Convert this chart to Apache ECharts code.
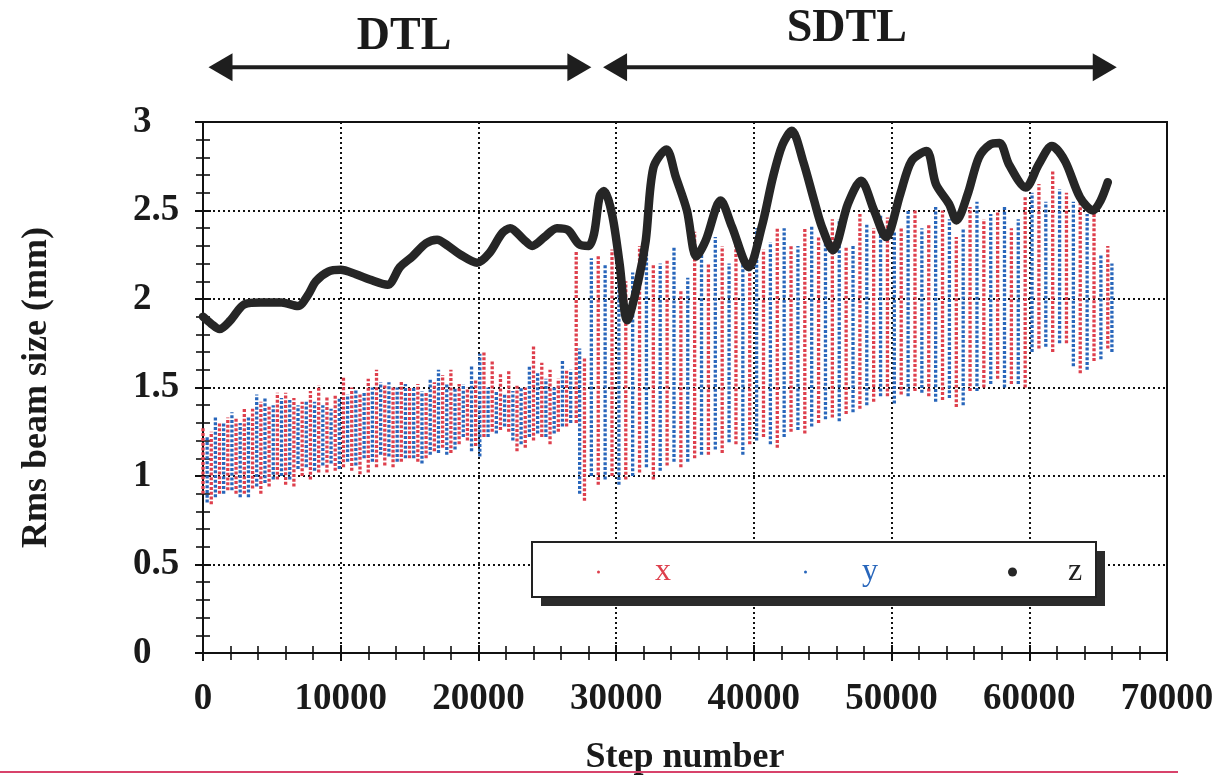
<!DOCTYPE html>
<html>
<head>
<meta charset="utf-8">
<script src="https://cdn.jsdelivr.net/npm/echarts@6/dist/echarts.min.js"></script>
<style>
html,body{margin:0;padding:0;background:#fff;}
#chart{width:1212px;height:775px;}
</style>
</head>
<body>
<div id="chart"></div>
<script>
// ---------- data ----------
const seriesNames = ['x', 'y', 'z'];

// z: rms beam size along the longitudinal axis
const zSteps = [0,600,1200,2000,3000,4200,5700,6900,7600,8200,9100,10000,11100,12100,13400,14300,15200,16200,17000,17800,18700,19900,20800,21700,22300,23300,23900,24800,25700,26500,27300,28000,28400,28800,29100,29700,30250,30800,31600,32150,32700,33650,34330,35140,35820,36500,37590,38400,39630,40580,41390,42070,42750,43570,44380,44930,45740,46830,47780,48730,49600,50630,51450,52540,53220,54170,54710,55530,56340,57160,57840,58520,59740,60690,61640,62590,63680,64630,65180,65700];
const zValues = [1.90,1.86,1.83,1.88,1.97,1.98,1.98,1.96,2.02,2.10,2.155,2.165,2.14,2.11,2.08,2.18,2.24,2.315,2.335,2.30,2.25,2.205,2.26,2.37,2.40,2.335,2.30,2.35,2.40,2.39,2.31,2.30,2.37,2.58,2.61,2.48,2.20,1.88,2.10,2.33,2.74,2.845,2.69,2.50,2.24,2.33,2.556,2.41,2.18,2.41,2.69,2.87,2.95,2.78,2.556,2.41,2.276,2.537,2.668,2.50,2.35,2.593,2.78,2.836,2.649,2.537,2.444,2.593,2.80,2.873,2.882,2.761,2.63,2.761,2.864,2.78,2.575,2.50,2.556,2.66];

// x and y: each sampled column of the oscillation as [step, lowest, highest]
const xColumns = [
 [0,0.90,1.28],[600,0.84,1.25],[1200,0.90,1.30],[1800,0.92,1.33],[2400,0.90,1.33],[3000,0.90,1.38],[3600,0.93,1.38],[4200,0.90,1.42],[4800,0.94,1.40],[5400,0.98,1.47],[6000,0.95,1.47],[6600,0.94,1.44],[7200,1.00,1.42],[7800,0.98,1.48],[8400,1.02,1.51],[9000,1.02,1.45],[9600,1.03,1.46],[10200,1.05,1.56],[10800,1.03,1.50],[11400,1.01,1.47],[12000,1.02,1.55],[12600,1.05,1.60],[13200,1.06,1.52],[13800,1.05,1.50],[14400,1.08,1.54],[15000,1.10,1.50],[15600,1.08,1.52],[16200,1.10,1.48],[16800,1.14,1.53],[17400,1.16,1.57],[18000,1.13,1.60],[18600,1.18,1.52],[19200,1.20,1.50],[19800,1.17,1.55],[20400,1.22,1.70],[21000,1.25,1.65],[21600,1.26,1.58],[22200,1.25,1.60],[22800,1.14,1.52],[23400,1.16,1.50],[24000,1.20,1.74],[24600,1.22,1.64],[25200,1.18,1.60],[25800,1.25,1.55],[26400,1.28,1.60],
 [27100,1.30,2.27],[27700,0.86,1.67],[28700,0.95,2.25],[29700,1.00,2.28],[30700,0.98,2.10],[31700,1.02,2.30],[32700,0.98,2.20],[33700,1.06,2.22],[34700,1.05,2.05],[35700,1.10,2.38],[36700,1.12,2.20],[37700,1.13,2.30],[38700,1.18,2.33],[39700,1.18,2.15],[40700,1.22,2.28],[41700,1.16,2.40],[42700,1.25,2.30],[43700,1.24,2.40],[44700,1.30,2.35],[45700,1.33,2.45],[46700,1.35,2.30],[47700,1.38,2.48],[48700,1.42,2.40],[49700,1.45,2.46],[50700,1.46,2.40],[51700,1.48,2.50],[52700,1.45,2.42],[53700,1.43,2.50],[54700,1.39,2.35],[55700,1.48,2.52],[56700,1.50,2.45],[57700,1.55,2.50],[58700,1.52,2.40],[59700,1.50,2.58],[60700,1.72,2.65],[61700,1.70,2.72],[62700,1.75,2.60],[63700,1.58,2.55],[64700,1.65,2.50],[65700,1.72,2.30]
];
const yColumns = [
 [300,0.85,1.22],[900,0.88,1.34],[1500,0.90,1.30],[2100,0.92,1.36],[2700,0.88,1.30],[3300,0.88,1.34],[3900,0.94,1.46],[4500,0.96,1.44],[5100,0.98,1.40],[5700,1.00,1.44],[6300,0.98,1.43],[6900,1.04,1.40],[7500,1.05,1.43],[8100,1.03,1.42],[8700,1.06,1.40],[9300,1.07,1.38],[9900,1.04,1.44],[10500,1.08,1.46],[11100,1.06,1.49],[11700,1.10,1.48],[12300,1.08,1.50],[12900,1.12,1.53],[13500,1.11,1.53],[14100,1.08,1.50],[14700,1.10,1.52],[15300,1.10,1.50],[15900,1.07,1.48],[16500,1.12,1.55],[17100,1.13,1.60],[17700,1.12,1.52],[18300,1.15,1.50],[18900,1.22,1.52],[19500,1.14,1.62],[20100,1.11,1.69],[20700,1.22,1.50],[21300,1.24,1.48],[21900,1.28,1.46],[22500,1.20,1.48],[23100,1.18,1.50],[23700,1.22,1.62],[24300,1.24,1.58],[24900,1.22,1.55],[25500,1.24,1.50],[26100,1.28,1.65],[26700,1.30,1.60],
 [27350,0.90,1.72],[28200,1.00,2.23],[29200,0.98,2.20],[30200,0.95,2.30],[31200,1.00,2.15],[32200,1.05,2.33],[33200,1.03,2.20],[34200,1.08,2.30],[35200,1.08,2.12],[36200,1.12,2.25],[37200,1.15,2.35],[38200,1.19,2.20],[39200,1.12,2.25],[40200,1.20,2.40],[41200,1.18,2.32],[42200,1.22,2.40],[43200,1.26,2.30],[44200,1.28,2.42],[45200,1.32,2.38],[46200,1.31,2.45],[47200,1.36,2.30],[48200,1.40,2.42],[49200,1.45,2.48],[50200,1.41,2.38],[51200,1.45,2.50],[52200,1.47,2.40],[53200,1.42,2.52],[54200,1.44,2.45],[55200,1.40,2.40],[56200,1.48,2.55],[57200,1.52,2.48],[58200,1.50,2.52],[59200,1.52,2.45],[60200,1.70,2.60],[61200,1.73,2.55],[62200,1.75,2.62],[63200,1.62,2.55],[64200,1.60,2.48],[65200,1.66,2.25],[66000,1.70,2.20]
];

// section annotations (step ranges)
const sectionNames = ['DTL', 'SDTL'];
const sectionArrows = [[400, 28200], [29050, 66350]];
const sectionLabelSteps = [14600, 46750];

// ---------- styles ----------
const RED = '#de3f4c', BLUE = '#2866bb', BLACK = '#262626';
const SERIF = '"Liberation Serif","Times New Roman",serif';

function streak(color) {
  return function (params, api) {
    const a = api.coord([api.value(0), api.value(1)]);
    const b = api.coord([api.value(0), api.value(2)]);
    return {
      type: 'line',
      shape: {x1: a[0], y1: a[1], x2: b[0], y2: b[1]},
      style: {stroke: color, lineWidth: 3.3, lineDash: [3, 1.8], lineCap: 'butt'}
    };
  };
}

const labelFont = {fontFamily: SERIF, fontWeight: 'bold', fontSize: 37, color: '#1a1a1a'};
const frameLine = {show: true, lineStyle: {color: '#111', width: 2}};
const dotted = {show: true, lineStyle: {color: '#111', width: 2, type: [2, 3]}};

function xAx(pos, main) {
  return {
    type: 'value', min: 0, max: 70000, interval: 10000, position: pos,
    axisLine: frameLine,
    axisTick: {show: true, inside: true, length: 8, lineStyle: {color: '#111', width: 2}},
    minorTick: {show: true, splitNumber: 5, length: 7, lineStyle: {color: '#111', width: 1.6}},
    splitLine: main ? dotted : {show: false},
    axisLabel: main ? Object.assign({margin: 28, formatter: v => String(v)}, labelFont) : {show: false},
    name: main ? 'Step number' : '',
    nameLocation: 'middle', nameGap: 87,
    nameTextStyle: {fontFamily: SERIF, fontWeight: 'bold', fontSize: 36, color: '#1a1a1a'}
  };
}
function yAx(pos, main) {
  return {
    type: 'value', min: 0, max: 3, interval: 0.5, position: pos,
    axisLine: frameLine,
    axisTick: {show: true, inside: true, length: 8, lineStyle: {color: '#111', width: 2}},
    minorTick: {show: true, splitNumber: 5, length: 7, lineStyle: {color: '#111', width: 1.6}},
    splitLine: main ? dotted : {show: false},
    axisLabel: main ? Object.assign({margin: 70, align: 'left', formatter: v => String(v)}, labelFont) : {show: false},
    name: main ? 'Rms beam size (mm)' : '',
    nameLocation: 'middle', nameGap: 148, nameRotate: 90,
    nameTextStyle: {fontFamily: SERIF, fontWeight: 'bold', fontSize: 36, color: '#1a1a1a'}
  };
}

const legendText = {fontFamily: SERIF, fontSize: 32};
const chart = echarts.init(document.getElementById('chart'), null, {renderer: 'canvas'});
chart.setOption({
  animation: false,
  backgroundColor: '#fff',
  grid: {left: 203, top: 122, width: 964, height: 531, show: true, borderColor: '#111', borderWidth: 2,
         containLabel: false, outerBoundsMode: 'none'},
  xAxis: [xAx('bottom', true), xAx('top', false)],
  yAxis: [yAx('left', true), yAx('right', false)],
  legend: [
    {left: 597, top: 556, padding: 0, z: 12, selectedMode: false, icon: 'circle', itemWidth: 3, itemHeight: 3,
     data: [seriesNames[0]], textStyle: Object.assign({color: RED, padding: [0, 0, 0, 50]}, legendText)},
    {left: 804, top: 556, padding: 0, z: 12, selectedMode: false, icon: 'circle', itemWidth: 3, itemHeight: 3,
     data: [seriesNames[1]], textStyle: Object.assign({color: BLUE, padding: [0, 0, 0, 50]}, legendText)},
    {left: 1008, top: 556, padding: 0, z: 12, selectedMode: false, icon: 'circle', itemWidth: 9, itemHeight: 9,
     data: [seriesNames[2]], textStyle: Object.assign({color: '#222', padding: [0, 0, 0, 46]}, legendText)}
  ],
  series: [
    {name: seriesNames[0], type: 'custom', renderItem: streak(RED), data: xColumns,
     encode: {x: 0, y: [1, 2]}, itemStyle: {color: RED}, z: 2},
    {name: seriesNames[1], type: 'custom', renderItem: streak(BLUE), data: yColumns,
     encode: {x: 0, y: [1, 2]}, itemStyle: {color: BLUE}, z: 3},
    {name: seriesNames[2], type: 'line', data: zSteps.map((s, i) => [s, zValues[i]]),
     showSymbol: false, smooth: 0.3, color: BLACK,
     lineStyle: {color: BLACK, width: 8.5, cap: 'round', join: 'round'}, z: 5}
  ]
});

// annotations: legend frame, section arrows, section labels
const ARROW_Y = 3.31;
const gfx = [];
gfx.push({type: 'rect', z: 10, shape: {x: 541, y: 551, width: 564, height: 55}, style: {fill: '#2b2b2b'}});
gfx.push({type: 'rect', z: 11, shape: {x: 532, y: 542, width: 564, height: 55}, style: {fill: '#fff', stroke: '#222', lineWidth: 2}});
sectionArrows.forEach((r, i) => {
  const p1 = chart.convertToPixel({gridIndex: 0}, [r[0], ARROW_Y]);
  const p2 = chart.convertToPixel({gridIndex: 0}, [r[1], ARROW_Y]);
  const y = p1[1], L = 24, H = 14;
  gfx.push({type: 'line', z: 20, shape: {x1: p1[0] + L - 2, y1: y, x2: p2[0] - L + 2, y2: y}, style: {stroke: '#1e1e1e', lineWidth: 4}});
  gfx.push({type: 'polygon', z: 20, shape: {points: [[p1[0], y], [p1[0] + L, y - H], [p1[0] + L, y + H]]}, style: {fill: '#1e1e1e'}});
  gfx.push({type: 'polygon', z: 20, shape: {points: [[p2[0], y], [p2[0] - L, y - H], [p2[0] - L, y + H]]}, style: {fill: '#1e1e1e'}});
  const c = chart.convertToPixel({gridIndex: 0}, [sectionLabelSteps[i], ARROW_Y]);
  gfx.push({type: 'text', z: 20, x: c[0], y: i === 0 ? 37 : 29,
    style: {text: sectionNames[i], fill: '#1a1a1a', font: 'bold 46px ' + SERIF, align: 'center', verticalAlign: 'middle'}});
});
gfx.push({type: 'line', z: 20, shape: {x1: 0, y1: 772, x2: 1178, y2: 772}, style: {stroke: '#d8436b', lineWidth: 2}});
chart.setOption({graphic: gfx});
</script>
</body>
</html>
